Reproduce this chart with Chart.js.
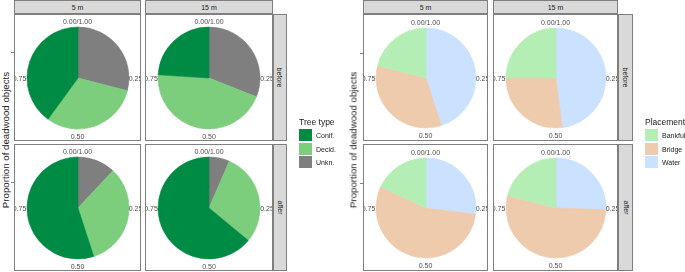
<!DOCTYPE html>
<html>
<head>
<meta charset="utf-8">
<script src="https://cdn.jsdelivr.net/npm/chart.js@4"></script>
<style>
  html, body { margin: 0; padding: 0; background: #fff; }
  #wrap { position: relative; width: 685px; height: 272px; overflow: hidden; font-family: "Liberation Sans", Arial, sans-serif; }
  .abs { position: absolute; }
  .panel { position: absolute; box-sizing: border-box; border: 1px solid #7f7f7f; overflow: hidden; background: #fff; }
  .strip { position: absolute; box-sizing: border-box; border: 1px solid #7f7f7f; background: #d9d9d9; color: #1a1a1a; font-size: 7px; display: flex; align-items: center; justify-content: center; }
  .vtxt { transform: rotate(90deg); white-space: nowrap; }
  .lab { position: absolute; transform: translate(-50%, -50%); font-size: 7px; color: #4d4d4d; white-space: nowrap; }
  .ytitle { position: absolute; transform: translate(-50%, -50%) rotate(-90deg); font-size: 9.7px; color: #1a1a1a; white-space: nowrap; }
  .tick { position: absolute; height: 1px; width: 3px; background: #7f7f7f; }
  .legtitle { position: absolute; font-size: 8.5px; color: #1a1a1a; white-space: nowrap; transform: translateY(-50%); }
  .key { position: absolute; width: 13px; height: 12px; }
  .keylab { position: absolute; font-size: 7px; color: #1a1a1a; transform: translateY(-50%); white-space: nowrap; }
</style>
</head>
<body>
<div id="wrap"></div>
<script>
// facets
const distances = ['5 m', '15 m'];
const periods = ['before', 'after'];
const thetaLabels = ['0.00/1.00', '0.25', '0.50', '0.75'];

// tree type shares, per panel [5m before, 15m before, 5m after, 15m after]
const treeTypes = ['Conif.', 'Decid.', 'Unkn.'];
const treeConif = [0.40, 0.24, 0.55, 0.64];
const treeDecid = [0.31, 0.45, 0.33, 0.295];
const treeUnkn  = [0.29, 0.31, 0.12, 0.065];

// placement shares, same panel order
const placements = ['Bankful', 'Bridge', 'Water'];
const placeBankful = [0.21, 0.25, 0.18, 0.21];
const placeBridge  = [0.34, 0.27, 0.55, 0.535];
const placeWater   = [0.45, 0.48, 0.27, 0.255];

const treeColors = ['#008B45', '#7CCD7C', '#7F7F7F'];
const placeColors = ['#B4EEB4', '#EECBAD', '#CAE1FF'];

const wrap = document.getElementById('wrap');

function el(cls, css, text, parent) {
  const d = document.createElement('div');
  d.className = cls;
  Object.assign(d.style, css);
  if (text != null) d.textContent = text;
  (parent || wrap).appendChild(d);
  return d;
}

// one faceted pie figure (ggplot coord_polar look)
function facetFigure(fig) {
  const { colX, colW, rowY, rowH, stripH, rStripW, radius, titleX, legX, legTitleY, series, colors, levels, legTitle } = fig;

  colX.forEach((x, c) => {
    const s = el('strip', { left: x + 'px', top: '0px', width: colW[c] + 'px', height: stripH + 'px' });
    el('', {}, distances[c], s);
  });
  const rx = colX[1] + colW[1];
  rowY.forEach((y, r) => {
    const s = el('strip', { left: rx + 'px', top: y + 'px', width: rStripW + 'px', height: rowH + 'px' });
    el('vtxt', {}, periods[r], s);
  });

  rowY.forEach((y, r) => {
    // r axis tick (halfway along the radius)
    el('tick', { left: (colX[0] - 3) + 'px', top: Math.round(y + rowH / 2 - radius / 2) + 'px' });
    colX.forEach((x, c) => {
      const idx = r * 2 + c;
      const p = el('panel', { left: x + 'px', top: y + 'px', width: colW[c] + 'px', height: rowH + 'px' });
      const cx = colW[c] / 2 - 1, cy = rowH / 2 - 1;
      const size = 2 * radius + 6;
      const cv = document.createElement('canvas');
      cv.width = size; cv.height = size;
      Object.assign(cv.style, { position: 'absolute', left: (cx - size / 2) + 'px', top: (cy - size / 2) + 'px', width: size + 'px', height: size + 'px' });
      p.appendChild(cv);

      // ggplot stacks the last level first when going clockwise from 12 o'clock
      const vals = series.map(s => s[idx]).reverse();
      const cols = colors.slice().reverse();
      new Chart(cv.getContext('2d'), {
        type: 'pie',
        data: { labels: levels.slice().reverse(), datasets: [{ data: vals, backgroundColor: cols, borderColor: cols, borderWidth: 0.6 }] },
        options: {
          responsive: false, animation: false, radius: radius,
          layout: { padding: 0 },
          plugins: { legend: { display: false }, tooltip: { enabled: false } },
        },
      });

      const d = radius + 7;
      el('lab', { left: cx + 'px', top: (cy - radius - 6) + 'px' }, thetaLabels[0], p);
      el('lab', { left: (cx + d) + 'px', top: cy + 'px' }, thetaLabels[1], p);
      el('lab', { left: cx + 'px', top: (cy + radius + 7) + 'px' }, thetaLabels[2], p);
      el('lab', { left: (cx - d) + 'px', top: cy + 'px' }, thetaLabels[3], p);
    });
  });

  el('ytitle', { left: titleX + 'px', top: '140px' }, 'Proportion of deadwood objects');

  el('legtitle', { left: legX + 'px', top: legTitleY + 'px' }, legTitle);
  levels.forEach((lv, i) => {
    const ky = legTitleY + 7 + i * 13.5;
    el('key', { left: legX + 'px', top: ky + 'px', background: colors[i] });
    el('keylab', { left: (legX + 17) + 'px', top: (ky + 6) + 'px' }, lv);
  });
}

facetFigure({
  colX: [14, 145], colW: [127, 128], rowY: [14, 144], rowH: [127][0], stripH: 14, rStripW: 14,
  radius: 51, titleX: 5, legX: 299, legTitleY: 122,
  series: [treeConif, treeDecid, treeUnkn], colors: treeColors, levels: treeTypes, legTitle: 'Tree type',
});

facetFigure({
  colX: [363, 493], colW: [125, 125], rowY: [14, 144], rowH: 127, stripH: 14, rStripW: 15,
  radius: 50, titleX: 353, legX: 645, legTitleY: 122,
  series: [placeBankful, placeBridge, placeWater], colors: placeColors, levels: placements, legTitle: 'Placement',
});
</script>
</body>
</html>
